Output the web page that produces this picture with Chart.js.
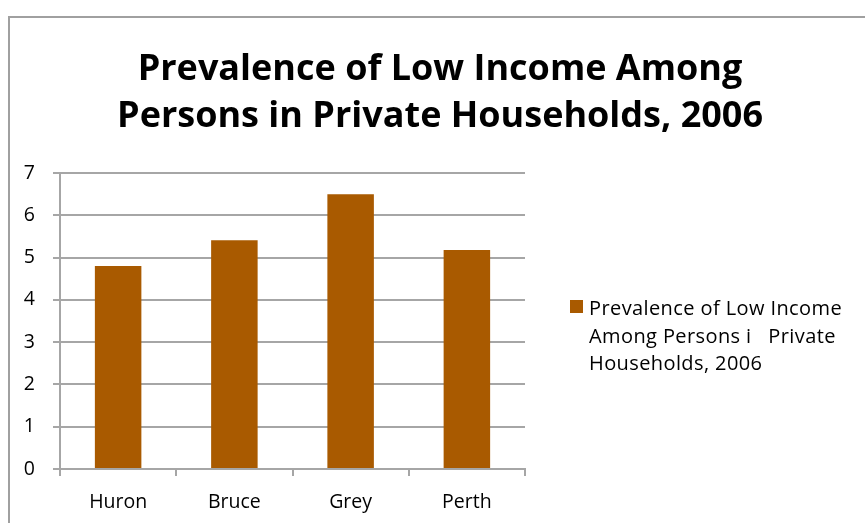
<!DOCTYPE html>
<html>
<head>
<meta charset="utf-8">
<script src="https://cdn.jsdelivr.net/npm/chart.js@4.4.0/dist/chart.umd.min.js"></script>
<style>
  html, body { margin: 0; padding: 0; background: #fff; }
  #wrap { position: relative; width: 865px; height: 523px; overflow: hidden; }
  #frame { position: absolute; left: 8px; top: 16px; width: 900px; height: 600px; border: 2px solid #a0a0a0; box-sizing: border-box; }
  canvas { position: absolute; left: 0; top: 0; }
</style>
</head>
<body>
<div id="wrap">
  <div id="frame"></div>
  <canvas id="c" width="865" height="523"></canvas>
</div>
<script>
const categories = ["Huron", "Bruce", "Grey", "Perth"];
const values = [4.80, 5.41, 6.50, 5.18];
const yTicks = [0, 1, 2, 3, 4, 5, 6, 7];
const titleLines = ["Prevalence of Low Income Among", "Persons in Private Households, 2006"];
const seriesLabel = "Prevalence of Low Income Among Persons in Private Households, 2006";
const legendLines = ["Prevalence of Low Income", "Among Persons i   Private", "Households, 2006"];
const barColor = "#A95A00";
const gridColor = "#a6a6a6";

const titleLegendPlugin = {
  id: 'titleLegend',
  afterDraw(chart) {
    const ctx = chart.ctx;
    ctx.save();
    // title
    ctx.fillStyle = '#000';
    ctx.font = 'bold 36px "Open Sans"';
    ctx.textAlign = 'center';
    ctx.textBaseline = 'alphabetic';
    titleLines.forEach((t, i) => ctx.fillText(t, 440, 80 + i * 47));
    // legend
    ctx.fillStyle = barColor;
    ctx.fillRect(570, 300, 13, 13);
    ctx.fillStyle = '#000';
    ctx.font = '20px "Open Sans"';
    ctx.textAlign = 'left';
    if ('letterSpacing' in ctx) ctx.letterSpacing = '0.4px';
    legendLines.forEach((t, i) => ctx.fillText(t, 589, 315 + i * 27.5));
    ctx.restore();
  }
};

new Chart(document.getElementById('c'), {
  type: 'bar',
  data: {
    labels: categories,
    datasets: [{
      label: seriesLabel,
      data: values,
      backgroundColor: barColor,
      categoryPercentage: 1.0,
      barPercentage: 0.4
    }]
  },
  options: {
    responsive: false,
    animation: false,
    layout: { padding: { left: 0, right: 340, top: 173, bottom: 0 } },
    plugins: {
      legend: { display: false },
      tooltip: { enabled: false },
      title: { display: false }
    },
    scales: {
      x: {
        afterFit(scale) { scale.height = 54; },
        grid: { display: true, drawOnChartArea: false, drawTicks: true, tickLength: 7, color: gridColor, lineWidth: 2, offset: true },
        border: { display: true, color: gridColor, width: 2 },
        ticks: { color: '#000', font: { family: 'Open Sans', size: 19.5 }, padding: 15 }
      },
      y: {
        min: 0, max: 7,
        afterFit(scale) { scale.width = 60; },
        afterBuildTicks(scale) { scale.ticks = yTicks.map(v => ({ value: v })); },
        grid: { color: gridColor, lineWidth: 2, tickLength: 7, drawTicks: true },
        border: { display: true, color: gridColor, width: 2 },
        ticks: { color: '#000', font: { family: 'Open Sans', size: 19.5 }, padding: 18, stepSize: 1 }
      }
    }
  },
  plugins: [titleLegendPlugin]
});
</script>
</body>
</html>
